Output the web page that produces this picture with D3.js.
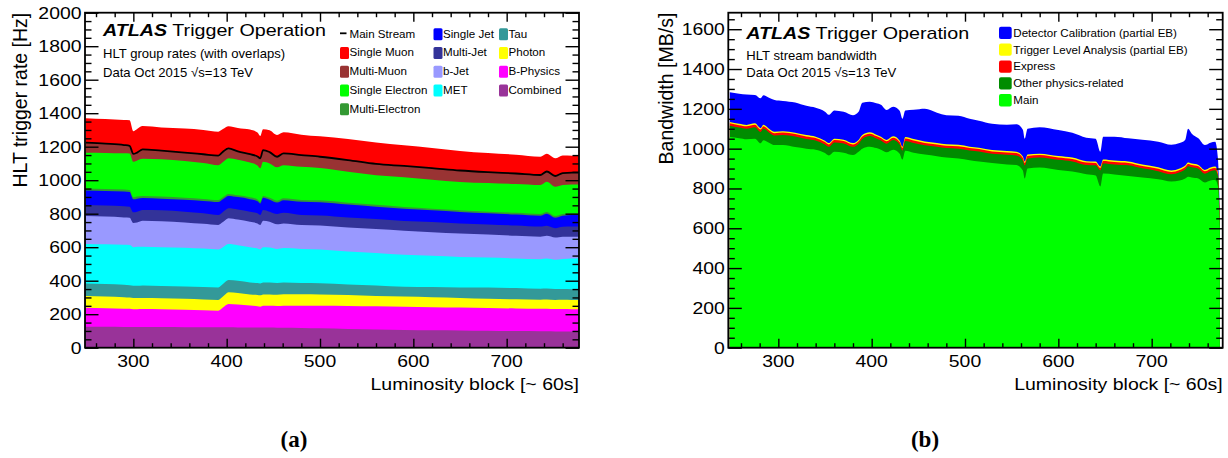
<!DOCTYPE html>
<html><head><meta charset="utf-8">
<script src="https://cdn.jsdelivr.net/npm/d3@7"></script>
<style>
body{margin:0;background:#fff}
svg{display:block}
text{font-family:"Liberation Sans",Arial,Helvetica,sans-serif;fill:#000}
</style>
</head><body>
<svg id="c" width="1228" height="458"></svg>
<script>
// ---------------- Panel (a): HLT group rates ----------------
const lbA = [249,270,290,296,300,304,310,330,355,375,391,396,402,412,425,433,436,439,446,454,461,480,500,530,560,590,620,650,680,710,736,743,752,760,770,777];
const combined       = [125,125,124,124,124,124,123,123,122,122,122,122,122,121,121,121,120,120,120,119,119,118,116,112,109,106,104,103,101,99,98,98,97,97,96,96];
const bPhysics       = [114,111,109,108,106,106,108,106,104,101,99,118,139,137,131,127,125,130,130,130,132,133,134,137,138,139,138,137,136,135,134,135,134,134,134,133];
const photon         = [70,70,68,67,66,66,66,66,66,65,64,65,70,69,66,67,68,68,68,67,68,68,68,65,62,60,59,57,55,55,55,55,54,55,55,56];
const tau            = [75,75,75,74,74,74,75,74,74,75,75,75,73,72,72,71,71,72,72,71,70,67,67,64,62,59,61,63,67,67,65,65,65,64,64,63];
const met            = [235,236,238,240,230,232,231,231,231,229,227,220,215,213,210,206,203,210,208,203,206,204,202,197,194,191,187,182,179,177,176,179,175,180,183,186];
const bJet           = [167,166,164,163,145,146,155,155,151,148,146,150,154,153,152,150,146,158,154,147,147,143,143,143,143,143,141,140,138,135,135,136,133,133,131,129];
const multiJet       = [66,66,67,66,63,64,64,65,64,62,59,60,59,60,60,60,59,64,60,61,63,59,60,60,60,59,60,60,60,61,60,60,55,59,60,60];
const singleJet      = [87,87,87,87,78,78,72,70,71,74,78,76,74,74,75,72,69,73,72,69,76,79,79,77,74,73,70,68,66,66,65,72,63,66,69,69];
const multiElectron  = [12,12,12,12,12,12,12,12,12,12,12,12,12,11,11,11,11,11,11,11,11,11,11,11,11,10,10,10,10,10,10,10,10,10,10,10];
const singleElectron = [213,215,217,219,212,216,222,223,220,215,208,210,213,212,207,203,199,204,205,199,198,198,193,184,177,178,173,170,171,172,173,181,175,174,173,173];
const multiMuon      = [58,53,47,43,45,45,54,49,48,50,55,60,57,48,48,52,58,68,66,61,68,68,65,68,65,65,67,66,63,61,58,59,62,68,68,68];
const singleMuon     = [148,149,152,155,137,142,141,141,145,147,145,137,134,142,149,145,135,126,132,132,128,124,124,128,130,125,122,119,116,114,111,108,108,108,103,101];
const mainStream     = [1224,1218,1210,1205,1157,1165,1184,1176,1165,1155,1147,1170,1190,1172,1155,1142,1131,1180,1168,1140,1160,1150,1140,1120,1097,1085,1072,1058,1048,1040,1031,1052,1025,1042,1045,1045];

// ---------------- Panel (b): HLT stream bandwidth ----------------
const lbB = [248,258,266,275,281,284,290,296,305,318,330,340,350,354,360,370,380,386,390,398,405,410,416,423,430,433,436,445,457,470,480,493,505,515,529,545,555,562,564,567,580,600,615,630,640,645,648,660,675,690,707,721,730,736,739,743,750,757,763,768,771,773];
const mainB   = [1058,1052,1047,1050,1027,1042,1030,1018,1018,1008,1000,995,978,966,985,980,968,985,1000,1010,1003,995,982,995,975,945,990,980,970,962,955,950,942,935,928,920,918,890,850,900,905,893,885,872,865,810,875,870,862,855,846,835,840,850,859,855,850,830,840,842,810,600];
const otherB  = [57,54,53,58,57,59,51,48,51,53,49,46,43,43,46,46,41,40,49,53,48,46,43,48,46,46,49,49,47,47,48,50,49,51,46,49,48,51,66,51,51,51,51,46,51,81,51,51,54,46,41,36,41,46,52,51,49,44,46,49,51,31];
const expressB= [12,12,12,12,12,12,12,12,12,12,12,12,12,12,12,12,12,12,12,12,12,12,12,12,12,12,12,12,12,12,12,12,12,12,12,12,12,12,12,12,12,12,12,12,12,12,12,12,12,12,12,12,12,12,12,12,12,12,12,12,12,12];
const tlaB    = [7,7,7,7,7,7,7,7,7,7,7,7,7,7,7,7,7,7,7,7,7,7,7,7,7,7,7,7,7,7,7,7,7,7,7,7,7,7,7,7,7,7,7,7,7,7,7,7,7,7,7,7,7,7,7,7,7,7,7,7,7,7];
const detCalB = [149,151,153,143,150,148,156,160,152,152,147,145,145,142,142,140,140,141,162,154,158,160,150,148,150,140,134,147,164,152,146,146,140,135,132,132,137,135,115,130,133,131,125,118,115,75,115,120,117,125,129,130,128,130,170,150,134,125,125,125,70,50];

// ---------------- Ticks / labels ----------------
const xMajor = [300,400,500,600,700];
const xLabels = ["300","400","500","600","700"];
const yMajorA = [0,200,400,600,800,1000,1200,1400,1600,1800,2000];
const yLabelsA = ["0","200","400","600","800","1000","1200","1400","1600","1800","2000"];
const yMajorB = [0,200,400,600,800,1000,1200,1400,1600];
const yLabelsB = ["0","200","400","600","800","1000","1200","1400","1600"];

const SQ = 0.87; // vertical squash of large horizontal text
const svg = d3.select("#c");

function htext(g, x, y, str, size, anchor, sq) {
  return g.append("text")
    .attr("transform", `translate(${x},${y}) scale(1,${sq===undefined?SQ:sq})`)
    .attr("font-size", size).attr("text-anchor", anchor || "start").text(str);
}

function panel(o) {
  const x = d3.scaleLinear().domain(o.xDomain).range([o.left, o.right]);
  const y = d3.scaleLinear().domain(o.yDomain).range([o.bottom, o.top]);
  const g = svg.append("g");
  const clipId = "clip" + o.id;
  svg.append("clipPath").attr("id", clipId).append("rect")
    .attr("x", o.left).attr("y", o.top).attr("width", o.right - o.left).attr("height", o.bottom - o.top);

  const table = o.xs.map((lb, i) => { const r = {lb}; o.layers.forEach(l => r[l.key] = l.values[i]); return r; });
  const stacked = d3.stack().keys(o.layers.map(l => l.key))(table);
  const area = d3.area().x(d => x(d.data.lb)).y0(y(0)).y1(d => y(d[1])).curve(d3.curveMonotoneX);
  const plot = g.append("g").attr("clip-path", `url(#${clipId})`);
  plot.selectAll("path.layer").data(stacked.slice().reverse()).join("path")
    .attr("class", "layer")
    .attr("fill", d => o.layers[d.index].color)
    .attr("d", area);

  if (o.line) {
    const line = d3.line().x((d, i) => x(o.xs[i])).y(d => y(d)).curve(d3.curveMonotoneX);
    plot.append("path").attr("d", line(o.line)).attr("fill", "none").attr("stroke", "#000").attr("stroke-width", 1.8);
  }

  // ticks (inward)
  const tk = (axis, tr) => {
    const a = g.append("g").attr("transform", tr).call(axis);
    a.select(".domain").remove();
    a.selectAll("line").attr("stroke", "#000").attr("stroke-width", 1.4);
    a.selectAll("text").remove();
  };
  const xMinor = d3.range(o.xMinorStart, o.xDomain[1], 20).filter(v => !o.xMajor.includes(v));
  const yMinor = d3.range(0, o.yDomain[1], 50).filter(v => !o.yMajor.includes(v));
  tk(d3.axisBottom(x).tickValues(o.xMajor).tickSize(-9), `translate(0,${o.bottom})`);
  tk(d3.axisBottom(x).tickValues(xMinor).tickSize(-4.5), `translate(0,${o.bottom})`);
  tk(d3.axisTop(x).tickValues(o.xMajor).tickSize(-9), `translate(0,${o.top})`);
  tk(d3.axisTop(x).tickValues(xMinor).tickSize(-4.5), `translate(0,${o.top})`);
  tk(d3.axisLeft(y).tickValues(o.yMajor).tickSize(-13.5), `translate(${o.left},0)`);
  tk(d3.axisLeft(y).tickValues(yMinor).tickSize(-6.5), `translate(${o.left},0)`);
  tk(d3.axisRight(y).tickValues(o.yMajor).tickSize(-13.5), `translate(${o.right},0)`);
  tk(d3.axisRight(y).tickValues(yMinor).tickSize(-6.5), `translate(${o.right},0)`);

  g.append("rect").attr("x", o.left).attr("y", o.top).attr("width", o.right - o.left).attr("height", o.bottom - o.top)
    .attr("fill", "none").attr("stroke", "#000").attr("stroke-width", 1.8);

  // tick labels
  o.xMajor.forEach((v, i) => htext(g, x(v), o.bottom + 19, o.xLabels[i], 19.4, "middle"));
  o.yMajor.forEach((v, i) => htext(g, o.left - 3.5, y(v) + 6, o.yLabels[i], 19.4, "end"));

  // axis titles
  htext(g, o.right, 390, "Luminosity block [~ 60s]", 19.5, "end");
  g.append("text").attr("transform", `translate(${o.yTitleX},${o.top}) rotate(-90)`)
    .attr("font-size", 19.5).attr("text-anchor", "end").text(o.yTitle);

  // ATLAS label
  const at = g.append("text").attr("transform", `translate(${o.left + 18},${o.atlasY}) scale(1,${SQ})`).attr("font-size", 19.7);
  at.append("tspan").attr("font-weight", "bold").attr("font-style", "italic").text("ATLAS");
  at.append("tspan").text(" Trigger Operation");
  htext(g, o.left + 18, o.sub1Y, o.sub1, 13.1, "start", 0.95);
  htext(g, o.left + 18, o.sub2Y, "Data Oct 2015 \u221As=13 TeV", 13.1, "start", 0.95);
  return {x, y, g};
}

// Panel (a)
const layersA = [
  {key: "Combined", values: combined, color: "#993399"},
  {key: "B-Physics", values: bPhysics, color: "#ff00ff"},
  {key: "Photon", values: photon, color: "#ffff00"},
  {key: "Tau", values: tau, color: "#339999"},
  {key: "MET", values: met, color: "#00ffff"},
  {key: "b-Jet", values: bJet, color: "#9999ff"},
  {key: "Multi-Jet", values: multiJet, color: "#333399"},
  {key: "Single Jet", values: singleJet, color: "#0000ff"},
  {key: "Multi-Electron", values: multiElectron, color: "#339933"},
  {key: "Single Electron", values: singleElectron, color: "#00ff00"},
  {key: "Multi-Muon", values: multiMuon, color: "#993333"},
  {key: "Single Muon", values: singleMuon, color: "#ff0000"}
];
const pA = panel({id: "a", left: 85, right: 579, top: 12.7, bottom: 347.7,
  xDomain: [248.2, 777.5], yDomain: [0, 2000], xs: lbA, layers: layersA, line: mainStream,
  xMajor, xLabels, yMajor: yMajorA, yLabels: yLabelsA, xMinorStart: 260,
  yTitle: "HLT trigger rate [Hz]", yTitleX: 27,
  atlasY: 35.7, sub1: "HLT group rates (with overlaps)", sub1Y: 57.5, sub2Y: 76.7});

// legend (a)
const legA = [
  ["Main Stream", null, 0, 0], ["Single Muon", "#ff0000", 0, 1], ["Multi-Muon", "#993333", 0, 2],
  ["Single Electron", "#00ff00", 0, 3], ["Multi-Electron", "#339933", 0, 4],
  ["Single Jet", "#0000ff", 1, 0], ["Multi-Jet", "#333399", 1, 1], ["b-Jet", "#9999ff", 1, 2], ["MET", "#00ffff", 1, 3],
  ["Tau", "#339999", 2, 0], ["Photon", "#ffff00", 2, 1], ["B-Physics", "#ff00ff", 2, 2], ["Combined", "#993399", 2, 3]
];
const colBox = [340, 433.5, 499];
legA.forEach(([lab, col, c, r]) => {
  const by = 37.7 + r * 18.75;
  if (col) {
    svg.append("rect").attr("x", colBox[c]).attr("y", by - 9.5).attr("width", 9).attr("height", 12)
      .attr("rx", 1.5).attr("fill", col);
  } else {
    svg.append("line").attr("x1", colBox[c]).attr("x2", colBox[c] + 6.5).attr("y1", by - 4.4).attr("y2", by - 4.4)
      .attr("stroke", "#000").attr("stroke-width", 1.8);
  }
  htext(svg, colBox[c] + 9.5, by, lab, 11.6, "start", 1);
});

// Panel (b)
const layersB = [
  {key: "Main", values: mainB, color: "#00ff00"},
  {key: "Other physics-related", values: otherB, color: "#008c00"},
  {key: "Express", values: expressB, color: "#ff0000"},
  {key: "Trigger Level Analysis (partial EB)", values: tlaB, color: "#ffff00"},
  {key: "Detector Calibration (partial EB)", values: detCalB, color: "#0000ff"}
];
const pB = panel({id: "b", left: 728.3, right: 1222.7, top: 12.7, bottom: 347.7,
  xDomain: [246.4, 776.1], yDomain: [0, 1683], xs: lbB, layers: layersB,
  xMajor, xLabels, yMajor: yMajorB, yLabels: yLabelsB, xMinorStart: 260,
  yTitle: "Bandwidth [MB/s]", yTitleX: 673,
  atlasY: 39.3, sub1: "HLT stream bandwidth", sub1Y: 60, sub2Y: 77.3});

const legB = [
  ["Detector Calibration (partial EB)", "#0000ff"],
  ["Trigger Level Analysis (partial EB)", "#ffff00"],
  ["Express", "#ff0000"],
  ["Other physics-related", "#008c00"],
  ["Main", "#00ff00"]
];
legB.forEach(([lab, col], r) => {
  const by = 36.7 + r * 16.85;
  svg.append("rect").attr("x", 999).attr("y", by - 10).attr("width", 12.7).attr("height", 12.3)
    .attr("rx", 2).attr("fill", col);
  htext(svg, 1013.3, by, lab, 11.6, "start", 1);
});

// sub-figure captions
[["(a)", 294], ["(b)", 925]].forEach(([t, cx]) => {
  svg.append("text").attr("x", cx).attr("y", 447).attr("text-anchor", "middle")
    .style("font-family", "'Liberation Serif','DejaVu Serif',serif").style("font-weight", "bold")
    .style("font-size", "23px").text(t);
});
</script>
</body></html>
